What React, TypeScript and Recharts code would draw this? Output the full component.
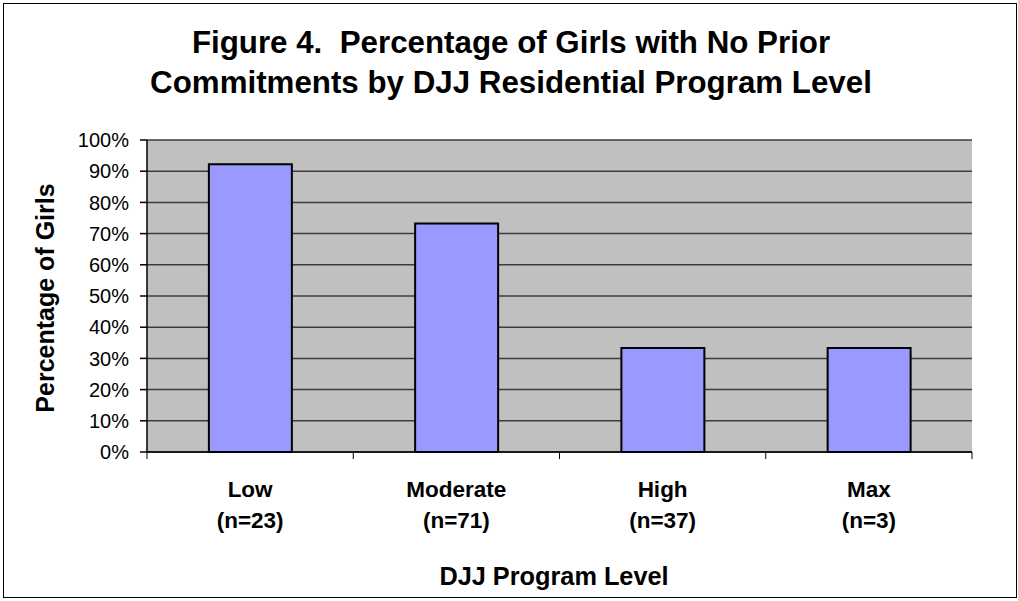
import React from 'react';
import { BarChart, Bar, XAxis, YAxis, CartesianGrid } from 'recharts';

const categories = ['Low', 'Moderate', 'High', 'Max'];
const sampleSizes = ['(n=23)', '(n=71)', '(n=37)', '(n=3)'];
const percentages = [92.2, 73.2, 33.3, 33.3];
const yTicks = [0, 10, 20, 30, 40, 50, 60, 70, 80, 90, 100];

const data = categories.map((c, i) => ({ name: c, n: sampleSizes[i], value: percentages[i] }));

const FONT = '"Liberation Sans", Arial, sans-serif';

const CategoryTick = (props: any) => {
  const { x, y, payload, index } = props;
  const off = payload && payload.offset ? payload.offset : 0;
  const last = index === categories.length - 1;
  return (
    <g>
      <line x1={x - off} y1={y} x2={x - off} y2={y + 7} stroke="#000" strokeWidth={1} />
      {last ? <line x1={x + off} y1={y} x2={x + off} y2={y + 7} stroke="#000" strokeWidth={1} /> : null}
      <text x={x} y={y + 45} textAnchor="middle" fontFamily={FONT} fontWeight="bold" fontSize={22.5} fill="#000">
        {payload.value}
      </text>
      <text x={x} y={y + 76} textAnchor="middle" fontFamily={FONT} fontWeight="bold" fontSize={22.5} fill="#000">
        {sampleSizes[index]}
      </text>
    </g>
  );
};

const YTitle = (props: any) => {
  const vb = props.viewBox || {};
  const cy = (vb.y || 0) + (vb.height || 0) / 2 + 2;
  const cx = 45;
  return (
    <text
      x={cx}
      y={cy}
      transform={`rotate(-90, ${cx}, ${cy})`}
      textAnchor="middle"
      dominantBaseline="central"
      fontFamily={FONT}
      fontWeight="bold"
      fontSize={25}
      fill="#000"
    >
      Percentage of Girls
    </text>
  );
};

export default function App() {
  return (
    <div style={{ position: 'absolute', left: 0, top: 0, width: 1018, height: 601, background: '#fff' }}>
      <div
        style={{
          position: 'absolute',
          left: 3,
          top: 3,
          width: 1014,
          height: 595,
          border: '1px solid #000',
          boxSizing: 'border-box',
        }}
      />
      <svg style={{ position: 'absolute', left: 0, top: 0 }} width={1018} height={130}>
        <text x={511} y={53} textAnchor="middle" fontFamily={FONT} fontWeight="bold" fontSize={31.3} fill="#000">
          Figure 4.{'\u00a0\u00a0'}Percentage of Girls with No Prior
        </text>
        <text x={511} y={93} textAnchor="middle" fontFamily={FONT} fontWeight="bold" fontSize={31.3} fill="#000">
          Commitments by DJJ Residential Program Level
        </text>
      </svg>
      <svg style={{ position: 'absolute', left: 0, top: 540 }} width={1018} height={60}>
        <text x={554} y={45} textAnchor="middle" fontFamily={FONT} fontWeight="bold" fontSize={25.3} fill="#000">
          DJJ Program Level
        </text>
      </svg>
      <div style={{ position: 'absolute', left: 0, top: 0 }}>
        <BarChart
          width={1018}
          height={601}
          data={data}
          margin={{ top: 140, right: 46, bottom: 89, left: 0 }}
          barCategoryGap="30%"
        >
          <CartesianGrid vertical={false} stroke="#3c3c3c" strokeWidth={1.5} fill="#C0C0C0" fillOpacity={1} />
          <XAxis
            dataKey="name"
            tick={<CategoryTick />}
            tickLine={false}
            tickSize={0}
            tickMargin={0}
            height={60}
            axisLine={{ stroke: '#000', strokeWidth: 1.5 }}
            interval={0}
          />
          <XAxis
            xAxisId="top"
            orientation="top"
            dataKey="name"
            tick={false}
            tickLine={false}
            height={0}
            axisLine={{ stroke: '#808080', strokeWidth: 1.5 }}
          />
          <YAxis
            domain={[0, 100]}
            ticks={yTicks}
            interval={0}
            width={147}
            tickFormatter={(v: number) => `${v}%`}
            tick={{ fontFamily: FONT, fontSize: 20, fill: '#000' }}
            tickSize={7}
            tickMargin={11}
            tickLine={{ stroke: '#000', strokeWidth: 1.5 }}
            axisLine={{ stroke: '#000', strokeWidth: 1.5 }}
            label={<YTitle />}
          />
          <YAxis
            yAxisId="right"
            orientation="right"
            domain={[0, 100]}
            tick={false}
            tickLine={false}
            width={0}
            axisLine={{ stroke: '#808080', strokeWidth: 1.5 }}
          />
          <Bar dataKey="value" fill="#9999FF" stroke="#000" strokeWidth={2} isAnimationActive={false} />
        </BarChart>
      </div>
    </div>
  );
}
